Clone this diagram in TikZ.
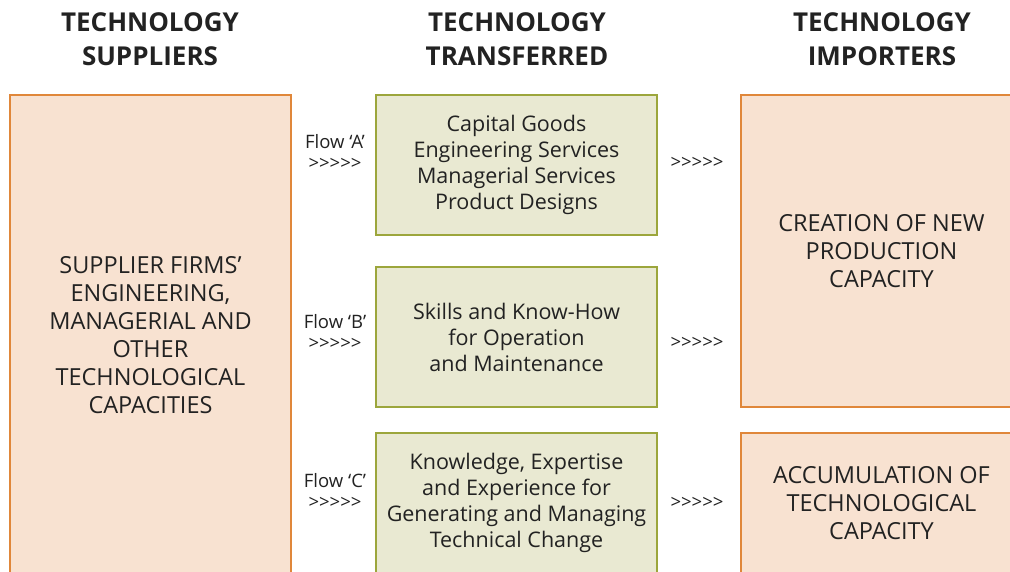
\documentclass[tikz,border=0pt]{standalone}
\usepackage{fontspec}
\setmainfont{Open Sans}
\usetikzlibrary{positioning}
\definecolor{boxorange}{HTML}{F8E2D1}
\definecolor{lineorange}{HTML}{E0873A}
\definecolor{boxgreen}{HTML}{E9E9D2}
\definecolor{linegreen}{HTML}{9CA63C}
\definecolor{txtgray}{HTML}{222222}
\newcommand{\arrs}{>{}>{}>{}>{}>}

\begin{document}
\begin{tikzpicture}[x=1pt,y=-1pt,
	orangebox/.style={draw=lineorange, line width=1.5pt, fill=boxorange, minimum width=281pt, inner sep=0pt, align=center, text=txtgray, font=\fontsize{23.5}{28}\selectfont},
	greenbox/.style={draw=linegreen, line width=1.5pt, fill=boxgreen, minimum width=281pt, minimum height=140pt, inner sep=0pt, align=center, text=txtgray, font=\fontsize{21.5}{26}\selectfont},
	head/.style={align=center, text=txtgray, font=\bfseries\fontsize{26}{34}\selectfont},
	flowlab/.style={align=center, text=txtgray, font=\fontsize{18.5}{21}\selectfont}]
				% Frame
				\clip (0,0) rectangle (1010,571);
				\fill[white] (0,0) rectangle (1010,571);
				
				% Headings
				\node[head] (hsup) at (150,39) {TECHNOLOGY\\SUPPLIERS};
				\node[head] (htra) at (517,39) {TECHNOLOGY\\TRANSFERRED};
				\node[head] (himp) at (882,39) {TECHNOLOGY\\IMPORTERS};
				
				% Suppliers
				\node[orangebox, minimum height=480pt] (sup) at (150.5,335) {SUPPLIER FIRMS’\\ENGINEERING,\\MANAGERIAL AND\\OTHER\\TECHNOLOGICAL\\CAPACITIES};
				
				% Transferred
				\node[greenbox] (tra) at (516.5,165) {Capital Goods\\Engineering Services\\Managerial Services\\Product Designs};
				\node[greenbox] (trb) at (516.5,337) {Skills and Know-How\\for Operation\\and Maintenance};
				\node[greenbox] (trc) at (516.5,503) {Knowledge, Expertise\\and Experience for\\Generating and Managing\\Technical Change};
				
				% Importers
				\node[orangebox, minimum height=312pt] (impa) at (881.5,251) {CREATION OF NEW\\PRODUCTION\\CAPACITY};
				\node[orangebox, minimum height=140pt] (impb) at (881.5,503) {ACCUMULATION OF\\TECHNOLOGICAL\\CAPACITY};
				
				% Flows
				\foreach \f/\y in {A/152,B/332,C/491} {
					\node[flowlab] (flow\f) at (335,\y) {Flow ‘\f’\\\arrs};
				}
				\foreach \f/\y in {A/163,B/343,C/503} {
					\node[flowlab] (out\f) at (697,\y) {\arrs};
				}
			\end{tikzpicture}
\end{document}
